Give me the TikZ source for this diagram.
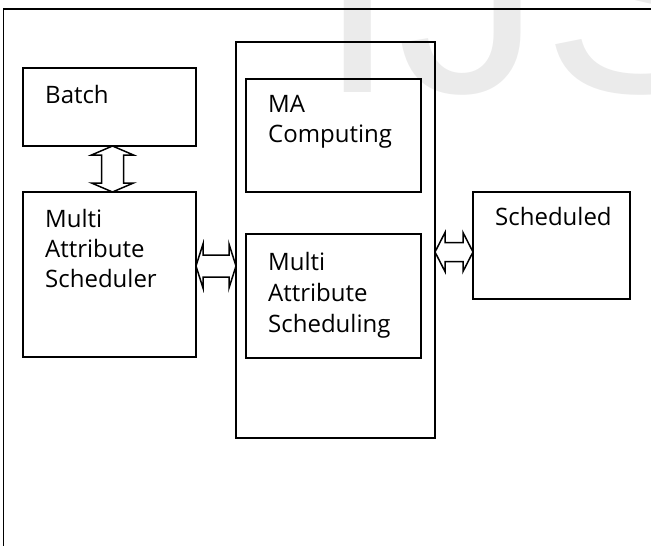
\documentclass[tikz,border=0pt]{standalone}
\usepackage{fontspec}
\setmainfont{Open Sans}
\newfontfamily\markfont{Liberation Sans}
\usetikzlibrary{calc}

% outlined double-headed block arrow between two named points
% #1 start, #2 end, #3 shaft half-width, #4 head half-width, #5 head length
\newcommand{\blockarrow}[5]{%
  \draw[blockarrowline] (#1)
    -- ($(#1)!#5!(#2)!#4!90:(#2)$)
    -- ($(#1)!#5!(#2)!#3!90:(#2)$)
    -- ($(#2)!#5!(#1)!#3!-90:(#1)$)
    -- ($(#2)!#5!(#1)!#4!-90:(#1)$)
    -- (#2)
    -- ($(#2)!#5!(#1)!#4!90:(#1)$)
    -- ($(#2)!#5!(#1)!#3!90:(#1)$)
    -- ($(#1)!#5!(#2)!#3!-90:(#2)$)
    -- ($(#1)!#5!(#2)!#4!-90:(#2)$)
    -- cycle;}

\tikzset{
  box/.style={draw=black, line width=1.9pt, inner sep=0pt, outer sep=0pt},
  % anchored at the baseline of the last line of the label
  lbl/.style={anchor=base west, inner sep=0pt, align=left,
              font=\fontsize{24}{30}\selectfont},
  blockarrowline/.style={draw=black, line width=1.5pt, fill=white, line join=miter},
  frameline/.style={draw=black, line width=1.9pt},
  watermark/.style={anchor=base west, inner sep=0pt, text=black!8,
                    font=\markfont\fontsize{290}{300}\selectfont},
}

\begin{document}
\begin{tikzpicture}[x=1pt, y=-1pt]
  \useasboundingbox (0,0) rectangle (651,546);
  \clip (0,0) rectangle (651,546);

  % faint background lettering
  \node[watermark] (mark) at (317,92) {IJSER};

  % page frame (runs off the right and bottom edges)
  \draw[frameline] (3.5,9) rectangle (700,600);

  % boxes
  \node[box, minimum width=173pt, minimum height=78pt]  (batch)   at (109.5,107)   {};
  \node[box, minimum width=173pt, minimum height=165pt] (mas)     at (109.5,274.5) {};
  \node[box, minimum width=199pt, minimum height=396pt] (centre)  at (335.5,240)   {};
  \node[box, minimum width=175pt, minimum height=113pt] (macomp)  at (333.5,135.5) {};
  \node[box, minimum width=175pt, minimum height=124pt] (masched) at (333.5,296)   {};
  \node[box, minimum width=157pt, minimum height=107pt] (sched)   at (551.5,245.5) {};

  % labels
  \node[lbl] (tbatch)   at (45,103)  {Batch};
  \node[lbl] (tmas)     at (45,287)  {Multi\\Attribute\\Scheduler};
  \node[lbl] (tmacomp)  at (268,142) {MA\\Computing};
  \node[lbl, font=\fontsize{24}{31}\selectfont] (tmasched) at (268,332) {Multi\\Attribute\\Scheduling};
  \node[lbl] (tsched)   at (495,225) {Scheduled};

  % connector end points
  \coordinate (va) at ([xshift=3pt]batch.south);
  \coordinate (vb) at (va |- mas.north);
  \coordinate (la) at ([yshift=8.5pt]mas.east);
  \coordinate (lb) at (la -| centre.west);
  \coordinate (ra) at ([yshift=-6.5pt]sched.west);
  \coordinate (rb) at (ra -| centre.east);

  % connectors
  \blockarrow{va}{vb}{11pt}{21pt}{9pt}
  \blockarrow{la}{lb}{11pt}{22pt}{7pt}
  \blockarrow{rb}{ra}{9.5pt}{19.5pt}{10pt}
\end{tikzpicture}
\end{document}
